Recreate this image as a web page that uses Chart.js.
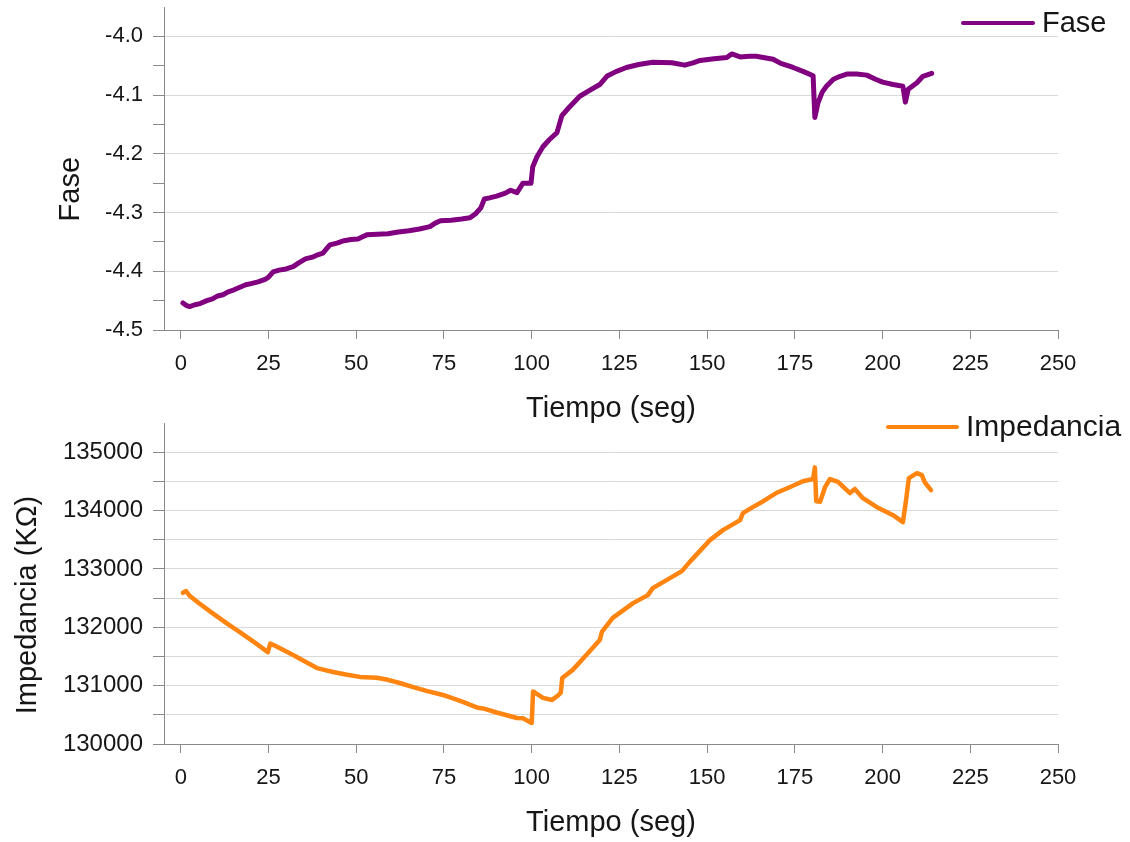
<!DOCTYPE html>
<html>
<head>
<meta charset="utf-8">
<title>Fase e Impedancia</title>
<script src="https://cdn.jsdelivr.net/npm/chart.js@4.4.1/dist/chart.umd.min.js"></script>
<style>
  html, body { margin: 0; padding: 0; background: #fff; }
  #wrap { position: relative; width: 1130px; height: 842px; overflow: hidden; }
  .box { position: absolute; left: 0; width: 1130px; }
  #faseBox { top: 0; height: 430px; }
  #impBox { top: 415px; height: 427px; }
</style>
</head>
<body>
<div id="wrap">
  <div class="box" id="faseBox"><canvas id="faseChart"></canvas></div>
  <div class="box" id="impBox"><canvas id="impChart"></canvas></div>
</div>
<script>
// eje x comun (segundos)
const timeTicks = [0, 25, 50, 75, 100, 125, 150, 175, 200, 225, 250];

// fase
const faseT = [0.6, 1.5, 2.5, 4, 5.5, 7.4, 9, 10.5, 12, 13.5, 15, 16.5, 18.5, 20, 22, 24, 25, 26.3, 28, 30,
  32, 33.5, 35.5, 37.5, 39, 40.5, 41.5, 42.5, 44.5, 46.5, 48.5, 50.5, 51.5, 53, 56, 59, 62, 65, 68, 71,
  72.5, 74, 77, 80, 82.4, 84, 85.5, 86.5, 88, 90, 92.5, 94, 95.8, 97.5, 99.8, 100.3, 101.5, 103.2, 105, 107.2,
  108.6, 110.5, 113.7, 116.5, 119.4, 121.4, 124, 127, 130.5, 134.5, 140, 143.6, 146, 148, 152, 155.6, 157, 159.4, 162, 164,
  166, 168.8, 171, 174.5, 177.5, 180.2, 180.7, 181.6, 182.8, 184, 186, 187.9, 190, 192.6, 195.5, 198, 200, 203, 205.8, 206.5,
  207.3, 209.8, 211.5, 214];
const faseV = [-4.454, -4.458, -4.460, -4.457, -4.455, -4.450, -4.447, -4.442, -4.440, -4.435, -4.432, -4.428, -4.423, -4.421, -4.418, -4.414, -4.410, -4.401, -4.398, -4.396,
  -4.392, -4.386, -4.379, -4.376, -4.372, -4.369, -4.362, -4.355, -4.352, -4.348, -4.346, -4.345, -4.342, -4.338, -4.337, -4.336, -4.333, -4.331, -4.328, -4.324,
  -4.318, -4.314, -4.313, -4.311, -4.309, -4.302, -4.292, -4.277, -4.275, -4.272, -4.267, -4.262, -4.266, -4.250, -4.250, -4.222, -4.205, -4.188, -4.176, -4.164,
  -4.135, -4.122, -4.102, -4.092, -4.082, -4.068, -4.060, -4.053, -4.048, -4.044, -4.045, -4.049, -4.045, -4.041, -4.038, -4.036, -4.030, -4.035, -4.034, -4.034,
  -4.036, -4.039, -4.046, -4.053, -4.060, -4.067, -4.138, -4.113, -4.095, -4.085, -4.073, -4.068, -4.064, -4.064, -4.066, -4.073, -4.078, -4.082, -4.085, -4.112,
  -4.090, -4.079, -4.068, -4.063];
const faseMajor = [-4.5, -4.4, -4.3, -4.2, -4.1, -4.0];
const faseMinor = [-4.45, -4.35, -4.25, -4.15, -4.05];

// impedancia (KOhm)
const impT = [0.6, 1.5, 2.5, 5, 9, 13, 16.8, 21, 24.8, 25.5, 27, 32, 35.5, 38.8, 43.4, 47, 51, 55.8, 59, 62.4,
  66, 70, 74.7, 80, 84.7, 86.1, 90, 95.8, 97.5, 100, 100.4, 103.2, 105.8, 107.5, 108.3, 108.7, 111.7, 115.5, 119.4, 120,
  123.1, 128.9, 133.1, 134.5, 139.4, 142.8, 145, 150.8, 154.5, 159.4, 160.2, 163, 166, 170, 173.5, 177.3, 180.2, 180.7, 181.1, 182.2,
  183.6, 185, 187.3, 190.7, 192.1, 194.4, 198.4, 203, 205.8, 206.7, 207.5, 209.8, 211.2, 212, 213.8];
const impV = [132590, 132620, 132540, 132420, 132243, 132070, 131918, 131740, 131575, 131720, 131680, 131524, 131410, 131301, 131233, 131190, 131150, 131135, 131100, 131045,
  130980, 130910, 130840, 130730, 130620, 130610, 130540, 130445, 130440, 130360, 130900, 130790, 130755, 130830, 130880, 131130, 131270, 131520, 131780, 131920,
  132160, 132414, 132551, 132671, 132842, 132962, 133116, 133493, 133664, 133836, 133955, 134058, 134160, 134310, 134400, 134503, 134540, 134740, 134160, 134150,
  134400, 134540, 134490, 134300, 134370, 134212, 134058, 133921, 133801, 134178, 134555, 134640, 134606, 134486, 134349];
const impMajor = [130000, 131000, 132000, 133000, 134000, 135000];
const impMinor = [130500, 131500, 132500, 133500, 134500];

const fontFam = "'Liberation Sans', Arial, sans-serif";
const textColor = '#161616';
const axisColor = '#8a8a8a';
const gridColor = '#d9d9d9';

function points(xs, ys) {
  return xs.map((x, i) => ({ x: x, y: ys[i] }));
}

function tickList(major, minor) {
  return major.map(v => ({ value: v, major: true }))
    .concat(minor.map(v => ({ value: v, major: false })))
    .sort((a, b) => a.value - b.value);
}

// titulo vertical del eje y, centrado entre las marcas extremas
const sideTitle = {
  id: 'sideTitle',
  afterDraw(chart, args, opts) {
    const y = chart.scales.y;
    const mid = (y.getPixelForValue(opts.from) + y.getPixelForValue(opts.to)) / 2 + opts.shift;
    const ctx = chart.ctx;
    ctx.save();
    ctx.translate(opts.x, mid);
    ctx.rotate(-Math.PI / 2);
    ctx.font = opts.size + 'px ' + fontFam;
    ctx.fillStyle = textColor;
    ctx.textAlign = 'center';
    ctx.textBaseline = 'middle';
    ctx.fillText(opts.text, 0, 0);
    ctx.restore();
  }
};

// leyenda: trazo + nombre de la serie
const lineKey = {
  id: 'lineKey',
  afterDraw(chart, args, opts) {
    const ds = chart.data.datasets[0];
    const ctx = chart.ctx;
    ctx.save();
    ctx.strokeStyle = ds.borderColor;
    ctx.lineWidth = 4;
    ctx.lineCap = 'round';
    ctx.beginPath();
    ctx.moveTo(opts.x, opts.y);
    ctx.lineTo(opts.x + opts.len, opts.y);
    ctx.stroke();
    ctx.font = opts.size + 'px ' + fontFam;
    ctx.fillStyle = textColor;
    ctx.textAlign = 'left';
    ctx.textBaseline = 'middle';
    ctx.fillText(ds.label, opts.x + opts.len + 9, opts.y + 1);
    ctx.restore();
  }
};

function timeAxis(axisH, titlePad) {
  return {
    type: 'linear',
    min: -4.8,
    max: 250,
    afterBuildTicks: s => { s.ticks = timeTicks.map(v => ({ value: v })); },
    afterFit: s => { s.height = axisH; s.paddingLeft = 0; s.paddingRight = 0; },
    border: { color: axisColor, width: 1 },
    grid: { drawOnChartArea: false, drawTicks: true, tickLength: 9, tickColor: axisColor },
    ticks: { padding: 12, color: textColor, autoSkip: false, maxRotation: 0, font: { family: fontFam, size: 22 } },
    title: {
      display: true, text: 'Tiempo (seg)', color: textColor,
      font: { family: fontFam, size: 29, lineHeight: 1 },
      padding: { top: 0, bottom: titlePad }
    }
  };
}

function valueAxis(min, max, major, minor, fmt, minorGrid, size) {
  return {
    type: 'linear',
    min: min,
    max: max,
    afterBuildTicks: s => { s.ticks = tickList(major, minor); },
    afterFit: s => { s.width = 164; s.paddingTop = 0; s.paddingBottom = 0; },
    border: { color: axisColor, width: 1 },
    grid: {
      color: c => (c.tick && (c.tick.major || minorGrid)) ? gridColor : 'rgba(0,0,0,0)',
      tickColor: axisColor,
      tickLength: 11,
      drawTicks: true
    },
    ticks: {
      padding: 10, color: textColor, autoSkip: false,
      font: { family: fontFam, size: size },
      callback: (v, i, t) => t[i].major ? fmt(v) : ''
    }
  };
}

const common = {
  responsive: true,
  maintainAspectRatio: false,
  animation: false,
  events: []
};

new Chart(document.getElementById('faseChart'), {
  type: 'line',
  data: {
    datasets: [{
      label: 'Fase',
      data: points(faseT, faseV),
      borderColor: '#800080',
      borderWidth: 5,
      pointRadius: 0,
      tension: 0,
      borderJoinStyle: 'round',
      borderCapStyle: 'round'
    }]
  },
  options: Object.assign({}, common, {
    layout: { padding: { left: 0, right: 72, top: 7, bottom: 0 } },
    scales: {
      x: timeAxis(100, 6.5),
      y: valueAxis(-4.5, -3.95, faseMajor, faseMinor, v => v.toFixed(1), false, 22)
    },
    plugins: {
      legend: { display: false },
      tooltip: { enabled: false },
      sideTitle: { text: 'Fase', x: 71, from: -4.5, to: -4.0, shift: 6, size: 29 },
      lineKey: { x: 963, y: 23, len: 70, size: 29 }
    }
  }),
  plugins: [sideTitle, lineKey]
});

new Chart(document.getElementById('impChart'), {
  type: 'line',
  data: {
    datasets: [{
      label: 'Impedancia',
      data: points(impT, impV),
      borderColor: '#ff8410',
      borderWidth: 4.5,
      pointRadius: 0,
      tension: 0,
      borderJoinStyle: 'round',
      borderCapStyle: 'round'
    }]
  },
  options: Object.assign({}, common, {
    layout: { padding: { left: 0, right: 72, top: 8, bottom: 0 } },
    scales: {
      x: timeAxis(98, 4.5),
      y: valueAxis(130000, 135500, impMajor, impMinor, v => String(v), true, 24)
    },
    plugins: {
      legend: { display: false },
      tooltip: { enabled: false },
      sideTitle: { text: 'Impedancia (K\u03A9)', x: 28, from: 130000, to: 135000, shift: 7, size: 29 },
      lineKey: { x: 888, y: 12, len: 69, size: 30 }
    }
  }),
  plugins: [sideTitle, lineKey]
});
</script>
</body>
</html>
